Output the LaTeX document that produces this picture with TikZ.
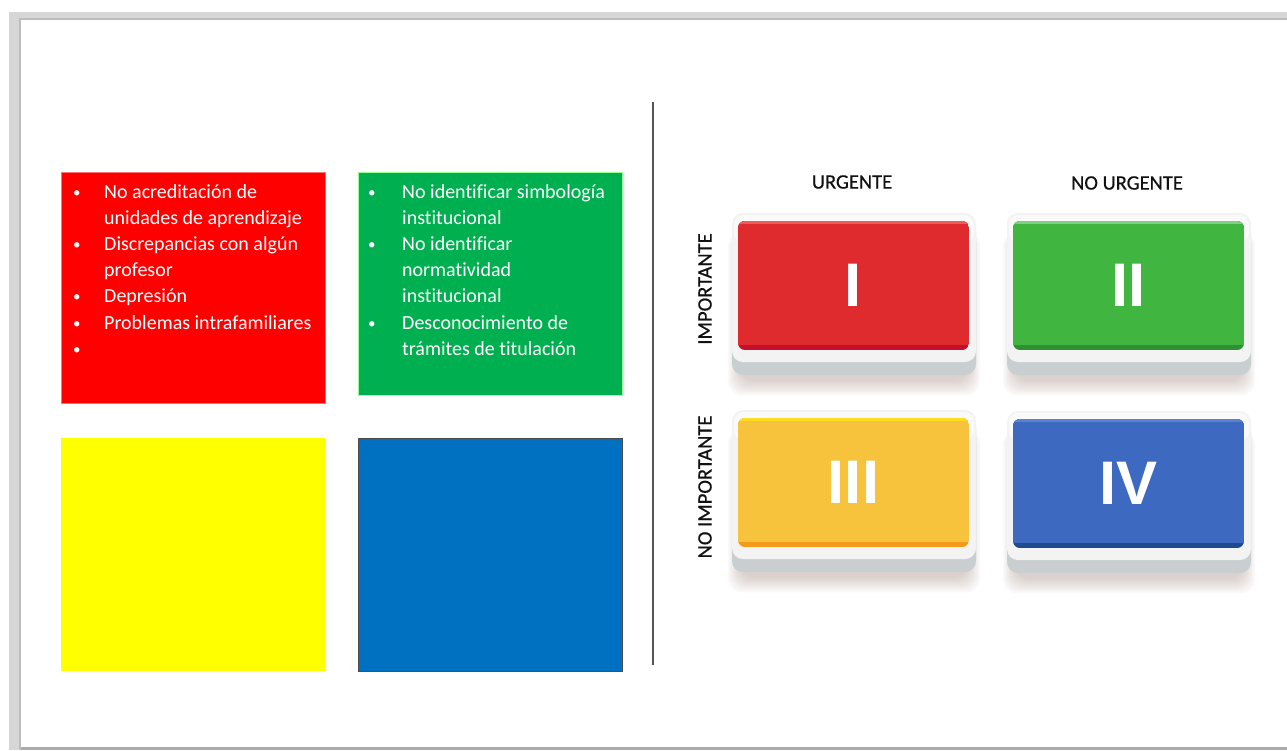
\documentclass[tikz,border=0pt]{standalone}
\usepackage{fontspec}
\setmainfont{Carlito}[Ligatures=NoCommon]
\newfontfamily\btnfont{Liberation Sans}
\newfontfamily\axfont{Carlito}[FakeBold=0.6]
\usetikzlibrary{positioning}
\definecolor{framegray}{HTML}{D6D6D6}
\definecolor{frameedge}{HTML}{BDBDBD}
\definecolor{redbox}{HTML}{FF0000}
\definecolor{greenbox}{HTML}{00B050}
\definecolor{yellowbox}{HTML}{FFFF00}
\definecolor{bluebox}{HTML}{0070C0}
\definecolor{sepgray}{HTML}{555555}
\definecolor{labelgray}{HTML}{111111}
\definecolor{baseTop}{HTML}{F3F3F3}
\definecolor{baseBot}{HTML}{C9CED0}
\definecolor{shadowbrown}{HTML}{8A6A55}
\definecolor{faceR}{HTML}{E02B2E}
\definecolor{faceRtop}{HTML}{EC5A5A}
\definecolor{faceRbot}{HTML}{C4102A}
\definecolor{faceG}{HTML}{40B540}
\definecolor{faceGtop}{HTML}{7FD07F}
\definecolor{faceGbot}{HTML}{2E8F34}
\definecolor{faceY}{HTML}{F8C33C}
\definecolor{faceYtop}{HTML}{FFDD22}
\definecolor{faceYbot}{HTML}{F59A18}
\definecolor{faceB}{HTML}{3D69C1}
\definecolor{faceBtop}{HTML}{5A82CE}
\definecolor{faceBbot}{HTML}{1F4B8E}
\newcommand\bul{\raisebox{1pt}{\scalebox{0.75}{•}}}
\tikzset{
  colbox/.style={anchor=north west, inner sep=0pt, outer sep=0pt},
  listtext/.style={anchor=base west, inner sep=0pt, text=white, font=\fontsize{20}{26.2}\selectfont},
  axislabel/.style={inner sep=0pt, text=labelgray, font=\axfont\fontsize{20.5}{24}\selectfont},
  numeral/.style={inner sep=0pt, text=white, font=\btnfont\bfseries\fontsize{61.5}{70}\selectfont},
}
% #1 name, #2 x0, #3 y0 (base top-left), #4 face, #5 face top, #6 face bottom, #7 label
\newcommand\quadbutton[7]{%
  \begin{scope}[shift={(#2,#3)}]
    \foreach \k in {0,...,8}{
      \fill[shadowbrown, opacity=0.035, rounded corners=14pt]
        (8-\k*1.5, 22-\k*0.3) rectangle (236+\k*1.5, 168+\k*1.8);
    }
    \fill[baseBot, rounded corners=11pt] (0,8) rectangle (244,162);
    \fill[baseTop, rounded corners=11pt] (0,0) rectangle (244,149);
    \fill[white, opacity=0.6, rounded corners=10pt] (2,2) rectangle (242,30);
    \begin{scope}
      \clip[rounded corners=7pt] (6,8) rectangle (237,137);
      \fill[#6] (6,8) rectangle (237,137);
      \fill[#4] (6,8) rectangle (237,132);
      \fill[#5] (6,8) rectangle (237,11);
    \end{scope}
    \node[numeral] (#1) at (121.5,72.5) {#7};
  \end{scope}
}
\begin{document}
\begin{tikzpicture}[x=1pt,y=-1pt]
\useasboundingbox (0,0) rectangle (1287,750);
\fill[white] (0,0) rectangle (1287,750);
% page frame
\fill[framegray] (9,12) rectangle (1287,20);
\fill[framegray] (9,12) rectangle (21,750);
\fill[frameedge] (19,18) rectangle (21,750);
\fill[frameedge] (19,18) rectangle (1287,20);
\fill[frameedge!90!black] (21,747) rectangle (1287,750);

% left colour boxes
\node[colbox, fill=redbox, draw=red!55!white, line width=0.6pt,
  minimum width=264pt, minimum height=231pt] (rbox) at (61,172) {};
\node[colbox, fill=greenbox, draw=green!40!white, line width=0.6pt,
  minimum width=264pt, minimum height=223pt] (gbox) at (358,172) {};
\node[colbox, fill=yellowbox, minimum width=264pt, minimum height=233pt] (ybox) at (61,438) {};
\node[colbox, fill=bluebox, draw=black!70, line width=0.6pt,
  minimum width=264pt, minimum height=233pt] (bbox) at (358,438) {};

\node[listtext] (rtext) at (73,198) {%
  \begin{tabular}[t]{@{}p{31pt}@{}l@{}}
  \bul & No acreditación de\\
       & unidades de aprendizaje\\
  \bul & Discrepancias con algún\\
       & profesor\\
  \bul & Depresión\\
  \bul & Problemas intrafamiliares\\
  \bul & \\
  \end{tabular}};
\node[listtext] (gtext) at (368,198) {%
  \begin{tabular}[t]{@{}p{34pt}@{}l@{}}
  \bul & No identificar simbología\\
       & institucional\\
  \bul & No identificar\\
       & normatividad\\
       & institucional\\
  \bul & Desconocimiento de\\
       & trámites de titulación\\
  \end{tabular}};

% separator
\coordinate (septop) at (653,102);
\coordinate (sepbot) at (653,665);
\draw[sepgray, line width=1.4pt] (septop) -- (sepbot);

% axis labels
\node[axislabel] (urg) at (852,182) {URGENTE};
\node[axislabel] (nourg) at (1127,183) {NO URGENTE};
\node[axislabel, rotate=90] (imp) at (705,289) {IMPORTANTE};
\node[axislabel, rotate=90] (noimp) at (705,487) {NO IMPORTANTE};

% buttons
\quadbutton{bI}{732}{213}{faceR}{faceRtop}{faceRbot}{I}
\quadbutton{bII}{1007}{213}{faceG}{faceGtop}{faceGbot}{II}
\quadbutton{bIII}{732}{410}{faceY}{faceYtop}{faceYbot}{III}
\quadbutton{bIV}{1007}{411}{faceB}{faceBtop}{faceBbot}{IV}
\end{tikzpicture}
\end{document}
